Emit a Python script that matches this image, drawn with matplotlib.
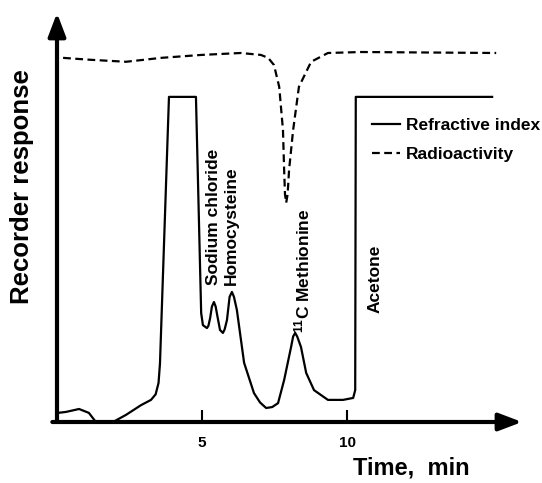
import matplotlib
matplotlib.use("Agg")
import matplotlib.pyplot as plt

plt.rcParams['font.family'] = ['Liberation Sans', 'DejaVu Sans']
plt.rcParams['font.weight'] = 'bold'
plt.rcParams['mathtext.fontset'] = 'custom'
plt.rcParams['mathtext.rm'] = 'Liberation Sans:bold'
plt.rcParams['mathtext.default'] = 'rm'

# refractive index trace (time in min, response in arbitrary units)
time_ri = [0.03, 0.31, 0.76, 1.10, 1.34, 1.93, 2.38, 2.90, 3.24, 3.40, 3.50, 3.55,
           3.86, 4.79, 4.97, 5.03, 5.12, 5.17, 5.22, 5.28, 5.34, 5.41, 5.47, 5.52,
           5.62, 5.72, 5.78, 5.86, 5.95, 6.03, 6.10, 6.20, 6.45, 6.79, 7.00, 7.21,
           7.42, 7.62, 7.83, 8.07, 8.14, 8.21, 8.28, 8.41, 8.59, 8.86, 9.34, 9.86,
           10.21, 10.28, 10.30, 15.0]
resp_ri = [2.8, 3.1, 4.0, 2.8, 0, 0, 2.2, 5.2, 6.8, 8.5, 12, 18,
           100, 100, 33.5, 29.8, 29.2, 28.9, 29.6, 32, 35.5, 36.9, 35.5, 33,
           28.3, 27.4, 28.5, 31.4, 38.5, 40, 38.5, 34.5, 18.2, 8.9, 6.0, 4.3,
           4.6, 5.8, 12.9, 23.1, 26.3, 27.4, 26.3, 23.1, 15.1, 9.8, 6.8, 6.8,
           7.4, 9.8, 100, 100]

# radioactivity trace
time_ra = [0.21, 1.17, 2.38, 3.59, 4.97, 6.34, 7.03, 7.28, 7.48, 7.66, 7.79, 7.83,
           7.86, 7.90, 7.95, 8.0, 8.14, 8.34, 8.76, 9.34, 10.48, 15.14]
resp_ra = [112, 111.4, 110.8, 112, 112.9, 113.5, 112.9, 112, 109.8, 103.1, 89.8, 77.5,
           70, 67.4, 70, 77.5, 89.8, 103.1, 110.8, 113.5, 113.8, 113.5]

xticks = [5, 10]

fig = plt.figure(figsize=(5.42, 4.83), dpi=100)
ax = fig.add_axes([57 / 542, 61 / 483, 465 / 542, 409 / 483])
ax.set_xlim(0, 16.03)
ax.set_ylim(0, 125.8)

ax.plot(time_ri, resp_ri, color='black', lw=1.6, label='Refractive index',
        solid_joinstyle='round')
ax.plot(time_ra, resp_ra, color='black', lw=1.6, ls='--', dashes=(3.5, 2),
        label='Radioactivity')

for s in ax.spines.values():
    s.set_visible(False)

# axis arrows
arrow = dict(arrowstyle='-|>,head_length=1.0,head_width=0.38', lw=3, color='black',
             mutation_scale=14, shrinkA=0, shrinkB=0)
ax.annotate('', xy=(1, 0), xytext=(-0.01, 0), xycoords='axes fraction', arrowprops=arrow)
ax.annotate('', xy=(0, 1), xytext=(0, 0), xycoords='axes fraction', arrowprops=arrow)

ax.set_xticks(xticks)
ax.set_xticklabels([str(v) for v in xticks], fontsize=11, fontweight='bold')
ax.tick_params(axis='x', direction='in', length=9, width=1.5, pad=10)
ax.set_yticks([])

# peak labels
ax.text(5.38, 42.2, 'Sodium chloride', rotation=90, ha='center', va='bottom', fontsize=12.5)
ax.text(6.0, 42.2, 'Homocysteine', rotation=90, ha='center', va='bottom', fontsize=12.5)
ax.text(8.45, 27.4, r'$^{11}$C Methionine', rotation=90, ha='center', va='bottom', fontsize=12.5)
ax.text(10.95, 33.5, 'Acetone', rotation=90, ha='center', va='bottom', fontsize=12.5)

ax.legend(loc='upper left', bbox_to_anchor=(372 / 542, 1 - 118 / 483),
          bbox_transform=fig.transFigure, frameon=False, borderpad=0, borderaxespad=0,
          handlelength=1.6, handletextpad=0.35, labelspacing=0.8,
          prop={'size': 12.5, 'weight': 'bold'})

fig.text(22 / 542, 1 - 187 / 483, 'Recorder response', rotation=90, ha='center',
         va='center', fontsize=18.5)
fig.text(353 / 542, 4 / 483, 'Time,  min', ha='left', va='bottom', fontsize=17)

plt.savefig('out.png', dpi=100)
